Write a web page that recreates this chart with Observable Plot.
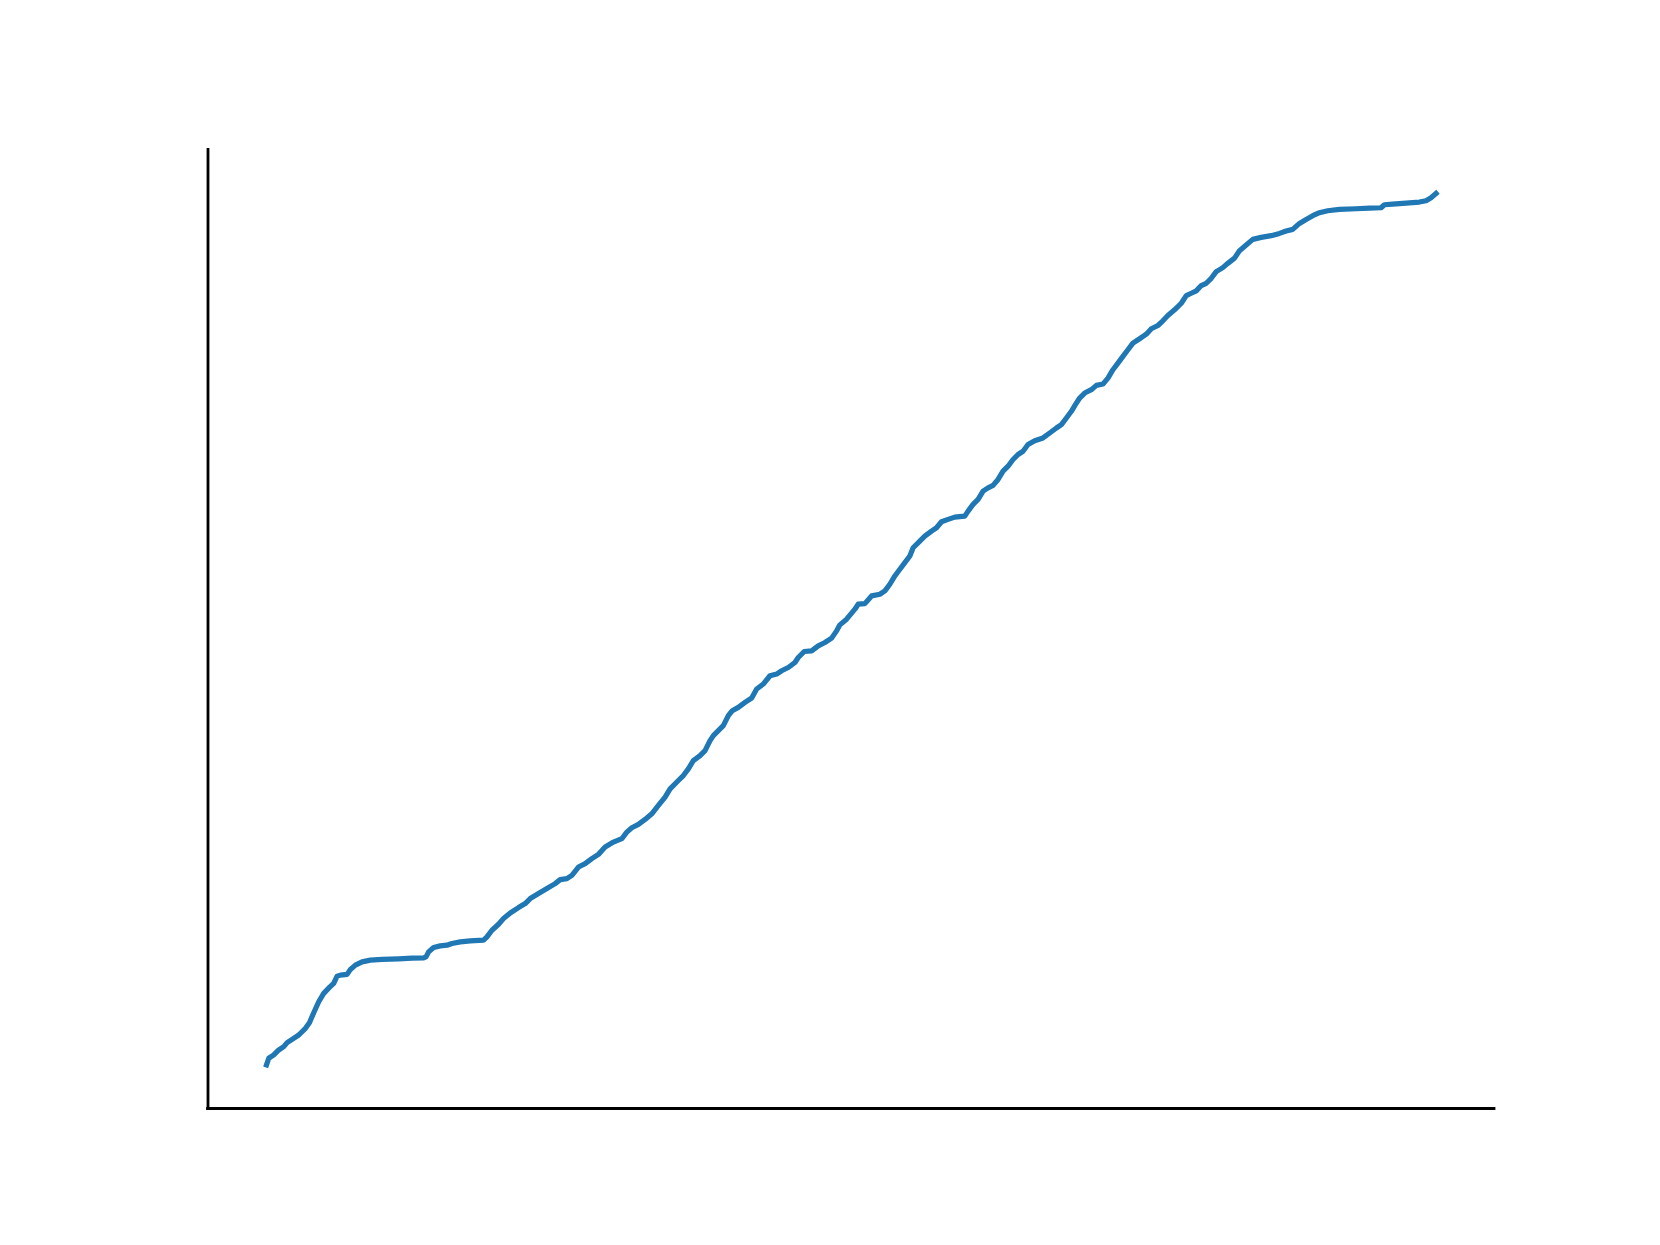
<!DOCTYPE html>
<html>
<head>
<meta charset="utf-8">
<script src="https://cdn.jsdelivr.net/npm/d3@7"></script>
<script src="https://cdn.jsdelivr.net/npm/@observablehq/plot@0.6"></script>
<style>
  html, body { margin: 0; padding: 0; background: #fff; overflow: hidden; }
  #chart svg { display: block; }
</style>
</head>
<body>
<div id="chart"></div>
<script>
// Series (arbitrary units, no ticks shown)
const xs = [0,2.3,7.3,12.3,17.3,20.7,25.7,32.3,39,43,47.3,52.3,57.3,63,67.3,70.7,74,80.7,84,89,95.7,104,115.7,132.3,145.7,157.3,159.7,162.3,167.3,174,180.7,185.7,
194,204,217.3,220.7,225.7,232.3,237.3,244,252.3,259,264,272.3,280.7,289,294,300.7,305.7,312.3,319,325.7,332.3,339,347.3,355.7,360.7,365.7,372.3,379,
385.7,392.3,399,404,412.3,417.3,422.3,427.3,434,439,444,447.3,452.3,457.3,462.3,466.3,472.3,479,485.7,490.7,497.3,504,510.7,515.7,522.3,529,532.3,538.3,545.7,552.3,559,565.7,570.7,574,
580.7,589,592.3,599,605.7,614,619,624,629,634,639,644,647.3,654,659,665.7,670.7,675.7,682.3,689,699,702.3,707.3,712.3,717.3,722.3,727.3,732.3,737.3,742.3,747.3,752.3,757.3,762.3,769,
777.3,784,790.7,795.7,800.7,805.7,809.7,814,819,825.7,830.7,837.3,842.3,847.3,852.3,857.3,862.3,867.3,874,880.7,885.7,892.3,897.3,902.3,909,915.7,920.7,925.7,930.7,935.7,940.7,945.7,950.7,957.3,962.3,
969,974,980.7,987.3,995.7,1005.7,1014,1020.7,1027.3,1034,1040.7,1047.3,1054,1062.3,1074,1090.7,1104,1115.7,1119,1127.3,1140.7,1154,1160.7,1165.7,1170.7];
const ys = [0,6.7,10,15,18.3,22.3,25.7,30,36.7,42.3,52.3,63.3,71.7,77.7,81.7,89,90,90.7,95.7,100,103.3,105,105.7,106.3,107,107.3,108.3,113.3,117.7,119.3,120,121.7,
123.3,124.3,125,128.3,135,141,146.7,152.3,157.7,161.7,166.7,171.7,176.7,181.7,185.7,186.7,190,198.3,201.7,206.7,211,218.3,223.3,226.7,233.3,237.7,241,246,
251.7,260,268.3,276.7,285,290,296.7,305,310,315,325,330,335,340,350,355,358.3,363.3,367.7,376.7,381.7,390,391.7,395,398.3,403.3,408.3,414.3,415,420,423.3,427.7,435,441,
446.7,456.7,461.7,462.3,470,471.7,475,481.7,490,496.7,503.3,510,518.3,525,530,535,538.3,544.3,546.7,549,550,555,561.7,566.7,575,578.3,580.7,586.7,595,600,606.7,611.7,615,621.7,625.5,
628.3,633.3,638.3,641.7,648.3,655,661.7,668.3,673.3,676.7,681,682.3,688.3,696.7,703.3,710,716.7,723.3,727.7,732.3,737.7,741,745.7,751,756.7,763.3,771,773.3,775.7,781,783.3,788.3,795,799,803.3,
808.5,816,821.7,827.3,829.3,831,833.3,835.7,837.3,843.3,847.3,851,854,856,857.3,858,858.7,859,862,862.7,863.7,864.7,866,869,873.3];

const data = xs.map((x, i) => ({x, y: ys[i]}));

// matplotlib-style 5% margins around the data extent
const [x0, x1] = d3.extent(xs);
const [y0, y1] = d3.extent(ys);
const mx = (x1 - x0) * 0.05, my = (y1 - y0) * 0.05;
const xDomain = [x0 - mx, x1 + mx];
const yDomain = [y0 - my, y1 + my];

const chart = Plot.plot({
  width: 1660,
  height: 1245,
  marginLeft: 207.5,
  marginRight: 166,
  marginTop: 149.4,
  marginBottom: 137,
  style: {background: "#fff", maxWidth: "none"},
  x: {domain: xDomain, axis: null},
  y: {domain: yDomain, axis: null},
  marks: [
    Plot.line(data, {x: "x", y: "y", stroke: "#1f77b4", strokeWidth: 5.2, strokeLinejoin: "round", strokeLinecap: "square"}),
    Plot.ruleX([xDomain[0]], {stroke: "#000", strokeWidth: 2.8, strokeLinecap: "square"}),
    Plot.ruleY([yDomain[0]], {stroke: "#000", strokeWidth: 2.8, strokeLinecap: "square"})
  ]
});
document.getElementById("chart").appendChild(chart);
</script>
</body>
</html>
